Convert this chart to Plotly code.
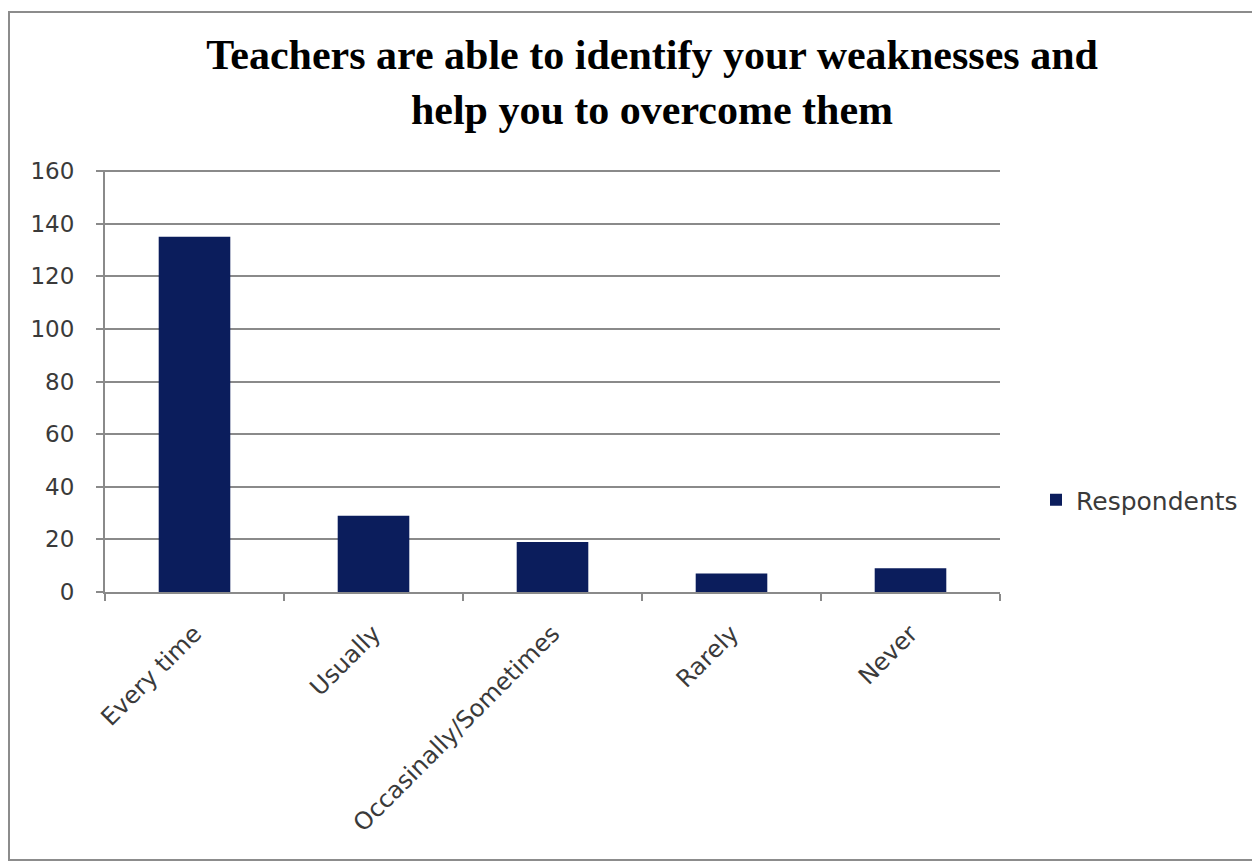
import plotly.graph_objects as go

categories = ["Every time", "Usually", "Occasinally/Sometimes", "Rarely", "Never"]
respondents = [135, 29, 19, 7, 9]
y_ticks = [0, 20, 40, 60, 80, 100, 120, 140, 160]

# page is offset by 8px body margin; coordinates below are figure coords
L, R, T, B = 97, 268, 162, 280
W, H = 1260, 864
pw, ph = W - L - R, H - T - B

fig = go.Figure()
fig.add_trace(go.Bar(
    x=categories, y=respondents, name="Respondents",
    marker=dict(color="#0b1d5c", line=dict(width=0)),
    width=0.4, showlegend=True,
))

fig.update_layout(
    width=W, height=H,
    margin=dict(l=L, r=R, t=T, b=B),
    paper_bgcolor="white", plot_bgcolor="white",
    title=dict(
        text="Teachers are able to identify your weaknesses and<br>help you to overcome them",
        font=dict(family="Liberation Serif", size=42, color="black", weight="bold"),
        x=644 / W, xanchor="center", y=1 - 61 / H, yanchor="top",
    ),
    showlegend=True,
    legend=dict(
        x=(1028 - L) / pw, y=(584 - 492) / ph, xanchor="left", yanchor="middle",
        font=dict(family="DejaVu Sans", size=25, color="#3a3a3a"),
        bgcolor="rgba(0,0,0,0)", itemwidth=30,
    ),
)

fig.update_yaxes(
    range=[0, 160.4], tickvals=y_ticks,
    showgrid=True, gridcolor="#8a8a8a", gridwidth=2,
    showline=True, linecolor="#8a8a8a", linewidth=2,
    ticks="outside", ticklen=7, tickcolor="#8a8a8a", tickwidth=2,
    tickfont=dict(family="DejaVu Sans", size=23, color="#3a3a3a"),
    zeroline=False, ticklabelstandoff=17,
)
fig.update_xaxes(
    showline=True, linecolor="#8a8a8a", linewidth=2,
    ticks="outside", tickson="boundaries", ticklen=7, tickcolor="#8a8a8a", tickwidth=2,
    tickangle=-45, ticklabelstandoff=16,
    tickfont=dict(family="DejaVu Sans", size=24, color="#3a3a3a"),
)

# outer chart frame
fig.add_shape(
    type="rect", xref="paper", yref="paper",
    x0=(1 - L) / pw, x1=(1250 - L) / pw,
    y0=(584 - 852) / ph, y1=(584 - 4) / ph,
    line=dict(color="#8c8c8c", width=2), fillcolor="rgba(0,0,0,0)", layer="below",
)

fig.write_html("out.html")
